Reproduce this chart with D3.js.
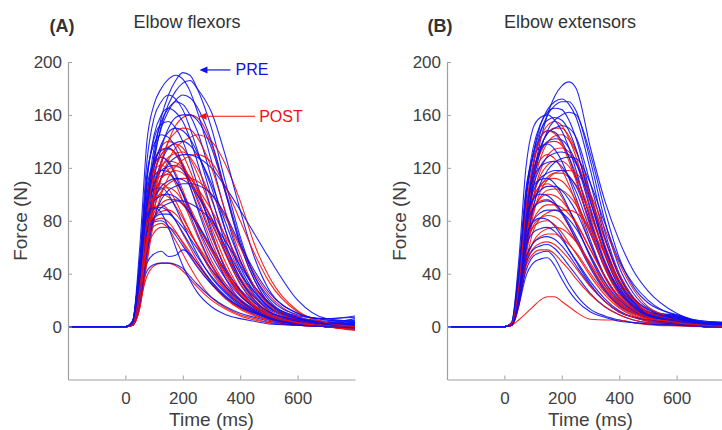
<!DOCTYPE html>
<html>
<head>
<meta charset="utf-8">
<script src="https://cdn.jsdelivr.net/npm/d3@7"></script>
<style>
  html, body { margin: 0; padding: 0; background: #fff; }
  svg { display: block; font-family: "Liberation Sans", Arial, Helvetica, sans-serif; }
</style>
</head>
<body>
<svg id="chart" width="722" height="430"></svg>
<script>
// Sample times (ms) shared by every force trace
const timeMs = [-200, 0, 25, 50, 75, 100, 125, 150, 175, 200, 225, 250, 300, 350, 400, 450, 500, 600, 700, 800];

// Elbow flexors, PRE session (N)
const flexPre = [
  [0,0,2,30,85,130,158,175,186,192,190,180,150,108,68,38,20,7,4,3],
  [0,0,4,60,140,168,180,187,190,187,178,163,125,85,50,28,15,6,3,2],
  [0,0,2,28,80,125,152,168,178,184,186,180,162,128,88,52,28,10,5,4],
  [0,0,2,35,95,135,155,165,170,168,160,148,112,72,42,24,14,6,3,2],
  [0,0,3,42,110,145,160,165,162,155,142,125,88,55,32,18,10,5,3,6],
  [0,0,2,25,72,112,135,150,158,160,160,156,135,100,62,35,18,8,6,7],
  [0,0,3,45,112,142,153,155,150,140,125,108,72,42,24,14,8,3,1,0],
  [0,0,2,30,85,120,138,147,150,148,142,132,105,72,45,26,15,6,2,1],
  [0,0,4,50,115,138,145,143,135,122,106,90,60,36,20,12,7,3,1,-1],
  [0,0,1,22,70,105,125,135,139,140,137,130,108,78,50,30,17,6,3,2],
  [0,0,3,40,100,125,133,135,131,122,110,96,68,44,27,16,9,4,2,1],
  [0,0,1,20,62,95,113,123,128,130,130,128,120,105,88,70,52,20,6,4],
  [0,0,4,48,105,124,128,124,114,100,85,71,47,30,19,12,7,3,1,0],
  [0,0,2,32,85,108,118,121,122,118,110,100,78,55,35,22,13,5,2,5],
  [0,0,3,42,95,114,118,117,110,100,88,76,54,36,23,15,9,4,2,1],
  [0,0,1,25,72,96,106,110,112,111,107,100,82,60,40,26,15,6,3,2],
  [0,0,4,46,92,104,105,100,90,78,66,55,37,25,16,11,7,3,1,0],
  [0,0,2,34,80,95,99,100,98,93,86,78,60,42,28,18,11,5,2,1],
  [0,0,1,22,62,82,90,93,95,95,93,90,80,64,46,30,18,7,3,2],
  [0,0,3,40,80,89,90,87,80,71,62,53,38,26,17,11,7,3,1,0],
  [0,0,2,32,72,82,85,85,81,75,67,59,43,30,20,13,8,3,1,-2],
  [0,0,3,38,72,79,80,76,69,61,53,45,32,22,15,10,6,2,0,-1],
  [0,0,2,25,48,55,57,53,54,58,55,48,34,23,15,10,6,2,1,0],
  [0,0,2,22,42,47,48,48,47,44,38,32,22,15,10,7,4,1,0,-1],
  [0,0,2,30,88,128,150,163,171,175,173,166,140,102,65,38,22,9,6,8],
  [0,0,1,18,55,82,96,103,106,108,108,107,100,84,62,42,26,10,5,4],
  [0,0,4,45,84,90,86,75,60,46,35,26,15,9,6,4,2,1,0,-1],
  [0,0,3,50,125,158,170,175,172,164,150,134,98,62,36,20,11,5,2,3]
];

// Elbow flexors, POST session (N)
const flexPost = [
  [0,0,1,15,55,95,122,140,152,158,160,158,138,100,62,35,18,6,2,0],
  [0,0,1,14,50,88,112,126,135,140,143,145,140,122,95,62,38,12,3,-1],
  [0,0,2,30,85,122,136,140,138,130,118,104,75,48,28,16,9,3,0,-2],
  [0,0,2,25,78,115,130,136,138,135,127,116,88,58,35,20,11,4,1,-1],
  [0,0,3,35,95,125,134,135,130,120,106,92,64,40,24,14,8,3,0,-1],
  [0,0,1,20,68,103,120,128,131,132,128,120,96,66,40,23,12,4,1,0],
  [0,0,3,38,98,122,128,125,116,103,89,75,50,32,20,12,7,2,0,-2],
  [0,0,2,26,80,110,121,125,124,120,113,105,88,68,48,30,18,6,1,-1],
  [0,0,3,36,95,118,122,118,108,95,82,69,46,29,18,11,6,2,0,-1],
  [0,0,1,22,70,100,112,116,118,116,110,102,82,58,37,22,12,4,1,0],
  [0,0,2,30,85,108,114,115,110,101,90,79,57,38,24,15,8,3,0,-2],
  [0,0,1,18,60,90,102,108,111,112,112,110,100,82,60,40,24,8,2,0],
  [0,0,3,34,88,105,108,104,95,84,72,61,41,27,17,11,6,2,0,-3],
  [0,0,2,28,78,98,104,105,102,95,86,77,58,40,26,16,9,3,0,-1],
  [0,0,2,30,80,96,100,98,91,82,72,62,43,28,18,11,6,2,0,-2],
  [0,0,1,22,66,86,93,96,96,92,85,77,58,40,26,16,9,3,0,-1],
  [0,0,2,30,76,90,92,88,80,70,60,50,34,22,14,9,5,2,0,-2],
  [0,0,2,25,68,83,87,88,85,78,70,62,46,32,21,13,8,3,0,-1],
  [0,0,2,28,68,80,82,79,72,63,54,46,32,21,14,9,5,1,0,-2],
  [0,0,2,26,64,76,78,74,65,55,45,36,22,14,9,6,3,1,0,-1],
  [0,0,2,22,58,71,75,75,71,64,56,48,33,21,13,8,5,2,0,-1],
  [0,0,1,18,38,46,48,48,46,42,36,30,20,13,8,5,3,1,0,-1],
  [0,0,1,18,62,100,125,140,147,150,149,143,120,86,54,30,16,5,1,-1],
  [0,0,1,14,48,80,100,113,121,126,129,130,124,105,80,55,34,11,3,0],
  [0,0,2,28,82,116,130,134,131,123,111,98,70,44,26,15,8,3,0,-2],
  [0,0,1,20,64,96,112,119,121,119,113,104,80,54,33,19,10,3,0,-1]
];

// Elbow extensors, PRE session (N)
const extPre = [
  [0,0,1,22,70,112,140,160,174,182,185,180,135,95,65,42,27,10,3,3],
  [0,0,2,35,95,130,152,164,170,172,168,158,118,72,40,22,13,6,3,2],
  [0,0,1,28,85,122,146,160,167,170,170,163,125,80,45,25,14,7,4,3],
  [0,0,2,38,100,135,153,162,165,164,156,142,100,60,33,18,11,8,2,1],
  [0,0,3,50,120,150,158,160,156,148,135,118,80,48,28,16,10,6,2,1],
  [0,0,2,36,96,130,148,156,158,156,148,134,95,58,32,18,11,8,3,2],
  [0,0,1,26,80,115,135,146,150,152,150,143,108,68,38,21,13,7,3,2],
  [0,0,2,40,100,130,143,148,147,140,128,112,76,45,26,15,10,9,2,1],
  [0,0,2,32,88,118,133,140,142,141,135,124,88,54,30,17,10,6,2,1],
  [0,0,3,44,104,128,136,138,134,125,112,97,65,38,22,13,9,7,2,0],
  [0,0,1,24,74,105,121,128,131,132,130,123,94,60,34,19,11,6,3,2],
  [0,0,2,34,90,112,121,124,125,121,113,102,72,44,25,14,9,8,2,1],
  [0,0,1,28,78,102,112,116,118,118,114,106,78,48,27,15,9,5,2,1],
  [0,0,2,38,90,106,111,112,108,100,89,77,52,31,18,11,8,6,1,0],
  [0,0,2,30,78,96,103,106,106,103,96,87,62,38,22,13,9,6,2,1],
  [0,0,2,36,82,96,100,99,94,86,76,65,44,27,16,10,7,5,1,0],
  [0,0,2,30,74,89,94,95,93,87,78,68,46,28,16,10,7,5,1,0],
  [0,0,1,24,64,80,86,88,88,86,81,74,54,34,20,12,8,4,1,0],
  [0,0,2,30,68,79,82,81,76,68,58,49,32,19,11,7,5,3,1,0],
  [0,0,2,26,60,71,74,75,72,66,58,50,34,21,12,7,5,3,1,0],
  [0,0,1,22,52,63,67,68,66,61,54,46,31,19,11,7,4,2,0,0],
  [0,0,1,20,47,58,61,62,59,53,46,39,25,15,9,5,3,2,0,0],
  [0,0,1,18,42,53,56,57,52,42,32,24,13,8,5,3,2,1,0,0],
  [0,0,1,16,38,48,51,52,46,36,27,20,11,7,4,3,2,1,0,0],
  [0,0,1,22,70,108,133,148,156,160,162,160,130,88,52,30,18,9,4,3],
  [0,0,1,18,58,90,108,118,124,127,128,127,108,78,50,32,20,8,3,2]
];

// Elbow extensors, POST session (N)
const extPost = [
  [0,0,1,25,80,120,142,152,155,152,142,128,90,55,30,16,9,4,1,0],
  [0,0,1,22,72,112,135,146,150,150,144,133,98,62,35,19,10,4,1,0],
  [0,0,1,20,66,104,127,139,144,145,141,132,100,66,38,21,11,5,1,0],
  [0,0,1,24,76,112,131,139,140,137,128,115,82,50,28,15,8,4,1,0],
  [0,0,1,18,60,96,118,129,134,135,132,125,98,66,40,22,12,5,1,0],
  [0,0,2,28,82,113,126,130,127,119,107,93,62,37,21,12,7,3,1,0],
  [0,0,1,20,64,97,114,122,125,125,121,113,86,56,33,19,10,4,1,0],
  [0,0,1,16,52,84,102,111,116,118,118,116,100,74,48,28,15,6,1,0],
  [0,0,1,18,58,90,106,113,116,116,113,107,84,56,33,19,10,4,1,0],
  [0,0,1,22,68,96,107,111,112,110,104,95,70,45,26,15,8,4,1,0],
  [0,0,2,26,74,98,106,108,105,98,88,77,53,33,19,11,6,3,0,0],
  [0,0,1,20,60,87,98,103,104,103,99,92,70,46,27,15,8,4,1,0],
  [0,0,1,22,64,88,97,100,99,95,88,79,58,38,22,13,7,3,0,0],
  [0,0,2,26,70,89,95,96,92,85,76,66,46,29,17,10,6,3,0,0],
  [0,0,1,18,56,80,89,92,92,90,85,78,58,38,22,13,7,3,0,0],
  [0,0,1,15,48,72,82,86,88,88,88,86,74,55,35,20,11,5,1,0],
  [0,0,1,20,58,76,82,84,83,79,72,64,46,29,17,10,6,3,0,0],
  [0,0,1,22,60,75,79,80,77,71,63,55,38,24,14,8,5,2,0,0],
  [0,0,1,16,48,64,71,74,75,74,70,64,48,31,18,11,6,3,0,0],
  [0,0,1,18,50,63,68,70,70,67,62,56,40,26,15,9,5,2,0,0],
  [0,0,1,18,48,59,63,64,62,57,51,44,30,19,11,7,4,2,0,0],
  [0,0,1,17,45,55,58,58,55,49,43,36,24,15,9,5,3,1,0,0],
  [0,0,1,5,10,15,20,22.5,22.5,19,15,11,5.5,5,5,3,1.5,0.5,0,0],
  [0,0,2,30,88,124,142,148,146,138,125,110,75,44,24,13,7,3,1,0]
];

const yTicks = [0, 40, 80, 120, 160, 200];
const xTicks = [0, 200, 400, 600];
const panelTags = ["(A)", "(B)"];
const panelTitles = ["Elbow flexors", "Elbow extensors"];
const sessionNames = ["PRE", "POST"];

const preColor = "#1010f0";
const postColor = "#f01010";
const inkColor = "#404040";
const axisColor = "#a0a0a0";

const svg = d3.select("#chart");

const y = d3.scaleLinear().domain([-40, 200]).range([379.5, 62]);

const panels = [
  { left: 68, tagX: 62, titleX: 187, labelX: 20, pre: flexPre, post: flexPost },
  { left: 447, tagX: 440, titleX: 570, labelX: 399, pre: extPre, post: extPost }
];

panels.forEach((p, i) => {
  const x = d3.scaleLinear().domain([-200, 800]).range([p.left, p.left + 287]);
  const g = svg.append("g");

  // traces, PRE and POST interleaved so neither colour sits entirely on top
  const line = d3.line()
    .x((d, k) => x(timeMs[k]))
    .y(d => y(d))
    .curve(d3.curveMonotoneX);

  const traces = [];
  const n = Math.max(p.pre.length, p.post.length);
  for (let k = 0; k < n; k++) {
    if (k < p.pre.length) traces.push({ v: p.pre[k], c: preColor });
    if (k < p.post.length) traces.push({ v: p.post[k], c: postColor });
  }
  g.append("g")
    .selectAll("path")
    .data(traces)
    .join("path")
    .attr("d", d => line(d.v))
    .attr("fill", "none")
    .attr("stroke", d => d.c)
    .attr("stroke-width", 1.1)
    .attr("stroke-opacity", 0.9);

  // axes: left + bottom only, ticks pointing inward
  const yAxis = d3.axisLeft(y).tickValues(yTicks).tickSizeInner(-4).tickSizeOuter(0).tickPadding(6);
  const xAxis = d3.axisBottom(x).tickValues(xTicks).tickSizeInner(-4).tickSizeOuter(0).tickPadding(12);

  const ya = g.append("g").attr("transform", `translate(${p.left},0)`).call(yAxis);
  const xa = g.append("g").attr("transform", `translate(0,${y(-40)})`).call(xAxis);
  [ya, xa].forEach(a => {
    a.select(".domain").attr("stroke", axisColor).attr("stroke-width", 1.2);
    a.selectAll(".tick line").attr("stroke", axisColor);
    a.selectAll(".tick text")
      .attr("fill", inkColor)
      .style("font-size", "17px")
      .style("font-family", "'Liberation Sans', Arial, sans-serif");
  });

  // axis titles
  g.append("text")
    .attr("x", x(300)).attr("y", 426)
    .attr("text-anchor", "middle")
    .attr("fill", inkColor)
    .style("font-size", "19px")
    .text("Time (ms)");
  g.append("text")
    .attr("transform", `translate(${p.labelX},${y(80)}) rotate(-90)`)
    .attr("text-anchor", "middle")
    .attr("dominant-baseline", "central")
    .attr("fill", inkColor)
    .style("font-size", "19px")
    .text("Force (N)");

  // panel tag and title
  g.append("text")
    .attr("x", p.tagX).attr("y", 32)
    .attr("text-anchor", "middle")
    .attr("fill", "#333")
    .style("font-size", "18px")
    .style("font-weight", "bold")
    .text(panelTags[i]);
  g.append("text")
    .attr("x", p.titleX).attr("y", 28)
    .attr("text-anchor", "middle")
    .attr("fill", "#333")
    .style("font-size", "18px")
    .text(panelTitles[i]);

  // PRE / POST call-outs on the flexor panel
  if (i === 0) {
    const notes = [
      { name: sessionNames[0], color: preColor, tip: [258, 194], tail: [366, 194], text: [384, 194] },
      { name: sessionNames[1], color: postColor, tip: [255, 159], tail: [452, 159], text: [466, 159] }
    ];
    notes.forEach(nt => {
      const tx = x(nt.tip[0]), ty = y(nt.tip[1]);
      g.append("line")
        .attr("x1", x(nt.tail[0])).attr("y1", y(nt.tail[1]))
        .attr("x2", tx + 5).attr("y2", ty)
        .attr("stroke", nt.color).attr("stroke-width", 1.2);
      g.append("path")
        .attr("d", `M${tx},${ty} L${tx + 8},${ty - 3.5} L${tx + 8},${ty + 3.5} Z`)
        .attr("fill", nt.color);
      g.append("text")
        .attr("x", x(nt.text[0])).attr("y", y(nt.text[1]))
        .attr("dominant-baseline", "central")
        .attr("fill", nt.color)
        .style("font-size", "16px")
        .text(nt.name);
    });
  }
});
</script>
</body>
</html>
